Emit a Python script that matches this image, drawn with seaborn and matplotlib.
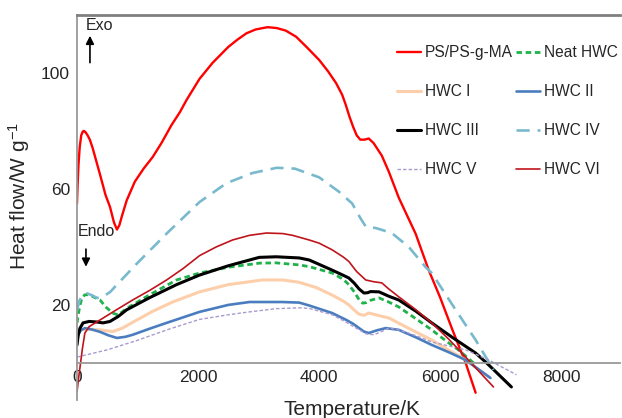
import matplotlib
matplotlib.use("Agg")
import matplotlib.pyplot as plt
import seaborn as sns
import pandas as pd

# valori (Temperature/K, Heat flow/W g-1)
ps_x = [0, 10, 25, 45, 70, 95, 115, 140, 175, 214, 260, 300, 380, 470, 545, 610, 660, 700, 740, 820, 955,
        1100, 1250, 1400, 1560, 1700, 1810, 2025, 2240, 2500, 2650, 2800, 2950, 3145, 3300, 3450, 3620, 3800,
        4000, 4150, 4280, 4380, 4440, 4500, 4560, 4620, 4680, 4750, 4820, 4900, 5035, 5150, 5315, 5595,
        5810, 6000, 6200, 6420, 6585]
ps_y = [55, 61.5, 68.5, 74.5, 78.5, 79.8, 80, 79.6, 78.5, 76.9, 74, 71, 65, 58, 53.8, 48.5, 46, 47.5, 50.5, 56,
        62.5, 67, 71, 76, 82, 86.5, 90.7, 98, 103.5, 109, 111.5, 113.7, 115, 115.8, 115.5, 114.6, 112.5, 108.8,
        104.5, 100.5, 96.5, 92.5, 89, 85, 81.5, 78.5, 77, 77, 77.4, 75.8, 71.5, 66, 57, 44.5,
        32, 22.5, 11.5, 0, -10.3]

neat_x = [0, 20, 45, 80, 130, 200, 300, 380, 480, 590, 680, 820, 1200, 1645, 2025, 2500, 3010, 3290, 3670,
          3835, 4215, 4400, 4490, 4580, 4660, 4720, 4780, 4850, 4990, 5150, 5315, 5600, 5860, 6100, 6300, 6550]
neat_y = [13.8, 16.5, 19.5, 22.3, 23.5, 23.5, 22.5, 21.7, 19.2, 17.2, 16.5, 18.8, 23.5, 28.6, 31, 33, 34.4, 34.5,
          33.8, 33.2, 31, 28.8, 27, 24.5, 21.8, 20.6, 20.8, 21.6, 22.4, 21, 19.3, 15.2, 11.4, 7.5, 4.5, 0]

hwc1_x = [0, 200, 380, 590, 750, 920, 1250, 1580, 2025, 2500, 3060, 3400, 3670, 3950, 4215, 4400, 4490, 4580,
          4660, 4740, 4820, 4950, 5150, 5500, 5860, 6150, 6420, 6800]
hwc1_y = [11.4, 11.6, 11.4, 10.8, 12, 14, 17.8, 21, 24.5, 27, 28.6, 28.6, 27.8, 26, 23.4, 21.3, 20, 18.2,
          16.8, 16.4, 17.2, 16.5, 15.5, 11.7, 7.9, 4.3, 1, -4.8]

hwc2_x = [0, 60, 130, 250, 380, 520, 660, 800, 920, 1200, 1480, 2025, 2500, 2850, 3390, 3670, 3835, 4215, 4450,
          4560, 4660, 4740, 4820, 4950, 5100, 5315, 5600, 5860, 6150, 6420, 6830]
hwc2_y = [9, 11.2, 12, 11.5, 10.7, 9.5, 8.6, 9, 9.7, 11.8, 13.8, 17.6, 20, 21, 21, 20.8, 19.8, 17.2, 14.8,
          13.5, 12, 10.8, 10.3, 11.2, 12, 11.4, 8.8, 6.2, 3.6, 1, -5.2]

hwc3_x = [0, 20, 50, 100, 200, 330, 430, 545, 680, 820, 1200, 1645, 2025, 2500, 3010, 3290, 3670, 3835, 4215,
          4400, 4490, 4580, 4660, 4740, 4800, 4850, 4990, 5150, 5315, 5600, 5860, 6200, 6585, 6766, 7176]
hwc3_y = [6.2, 9.5, 12, 13.8, 14.3, 14.1, 13.8, 14.3, 16, 18.3, 22.5, 27, 30.3, 33.5, 36.4, 36.6, 36.2, 35.5, 32,
          30.2, 29.3, 27.5, 25.5, 24.1, 24.2, 24.6, 24.5, 23, 21.7, 17.8, 13.8, 8.8, 3.4, 0, -8.3]

hwc4_x = [0, 40, 100, 165, 250, 330, 430, 550, 660, 1000, 1500, 2025, 2470, 2900, 3300, 3600, 4000, 4330, 4545,
          4680, 4770, 4940, 5200, 5480, 5760, 5860, 6255, 6585, 6880]
hwc4_y = [18, 21.5, 23.5, 24, 23.3, 22.4, 22.8, 24.5, 27, 34.5, 45, 55.5, 62, 65.5, 67.3, 67, 64, 59, 55,
          50, 47, 46.5, 44.8, 40, 33, 31, 18.3, 7.9, -2.4]

hwc5_x = [0, 500, 1000, 1500, 2025, 2500, 2850, 3290, 3670, 3835, 4215, 4450, 4660, 4780, 4905, 5030, 5150,
          5300, 5600, 5860, 6150, 6420, 6800, 7260]
hwc5_y = [2, 4.5, 7.8, 11.5, 15, 16.6, 17.6, 18.7, 19, 18.8, 16.6, 14, 11.4, 10, 9.7, 10.8, 12,
          11.5, 9.4, 7.2, 5.8, 4.5, 1, -4.1]

hwc6_x = [0, 25, 50, 90, 130, 200, 380, 650, 920, 1200, 1480, 1750, 2025, 2300, 2570, 2850, 3130, 3400, 3560,
          3835, 4000, 4215, 4400, 4490, 4620, 4770, 4900, 5035, 5150, 5315, 5600, 5860, 6150, 6420, 6880]
hwc6_y = [-10, -5.5, -1.4, 5, 10.3, 12.5, 14.8, 18.3, 21.7, 25, 28.6, 32.5, 37, 40, 42.4, 44, 44.8, 44.6, 44,
          42.4, 41.3, 39, 36.5, 35, 31.5, 28.6, 28, 27.6, 25.5, 22.8, 18.3, 13.8, 8, 2, -8.3]

series = [
    ("PS/PS-g-MA", ps_x, ps_y, "#ff0000", 1.7, "-"),
    ("Neat HWC", neat_x, neat_y, "#1fb24a", 2.0, (0, (2, 1.3))),
    ("HWC I", hwc1_x, hwc1_y, "#fdceaa", 2.2, "-"),
    ("HWC II", hwc2_x, hwc2_y, "#4a7dbf", 1.9, "-"),
    ("HWC III", hwc3_x, hwc3_y, "#000000", 2.2, "-"),
    ("HWC IV", hwc4_x, hwc4_y, "#79b9cd", 1.9, (0, (5, 3))),
    ("HWC V", hwc5_x, hwc5_y, "#a99ad0", 1.0, (0, (2.5, 1.5))),
    ("HWC VI", hwc6_x, hwc6_y, "#c0141c", 1.2, "-"),
]

sns.set_style("white")
plt.rcParams['font.family'] = ['Liberation Sans', 'DejaVu Sans']
plt.rcParams['mathtext.default'] = 'regular'

fig = plt.figure(figsize=(6.22, 4.18), dpi=100)
ax = fig.add_axes([77 / 622, 18 / 418, 543 / 622, 385 / 418])

for name, xs, ys, col, lw, ls in series:
    df = pd.DataFrame({'T': xs, 'H': ys})
    sns.lineplot(data=df, x='T', y='H', sort=False, estimator=None, ax=ax,
                 color=col, linewidth=lw, linestyle=ls, label=name)

ax.set_xlim(0, 8970)
ax.set_ylim(-12.8, 120)
ax.set_xticks([0, 2000, 4000, 6000, 8000])
ax.set_yticks([20, 60, 100])
ax.tick_params(direction='in', length=3, color='#999999', labelsize=12.5, pad=5)

ax.spines['right'].set_visible(False)
ax.spines['bottom'].set_position(('data', 0))
for s in ['left', 'bottom', 'top']:
    ax.spines[s].set_color('#999999')
    ax.spines[s].set_linewidth(1.3)
ax.spines['top'].set_linewidth(2)
ax.spines['top'].set_color('#808080')

ax.set_xlabel('Temperature/K', fontsize=15)
ax.set_ylabel('Heat flow/W g$^{-1}$', fontsize=15)
ax.xaxis.set_label_coords(0.506, 0.0)
ax.yaxis.set_label_coords(-0.082, 0.53)

# Exo / Endo
ax.text(148, 116.3, 'Exo', fontsize=11.5, va='center', ha='left')
ax.annotate('', xy=(214, 113.8), xytext=(214, 102.6),
            arrowprops=dict(arrowstyle='-|>', color='k', lw=1.2, mutation_scale=12))
ax.text(16, 45.2, 'Endo', fontsize=11.5, va='center', ha='left')
ax.annotate('', xy=(148, 32.2), xytext=(148, 40.2),
            arrowprops=dict(arrowstyle='-|>', color='k', lw=1.2, mutation_scale=12))

handles, labels = ax.get_legend_handles_labels()
order = [0, 2, 4, 6, 1, 3, 5, 7]
ax.legend([handles[i] for i in order], [labels[i] for i in order], ncol=2, frameon=False,
          loc='upper left', bbox_to_anchor=(397 / 622, 1 - 45 / 418), bbox_transform=fig.transFigure,
          fontsize=11.2, labelspacing=1.55, handlelength=1.55, handletextpad=0.25,
          columnspacing=0.2, borderpad=0, borderaxespad=0)

fig.savefig('out.png', dpi=100)
